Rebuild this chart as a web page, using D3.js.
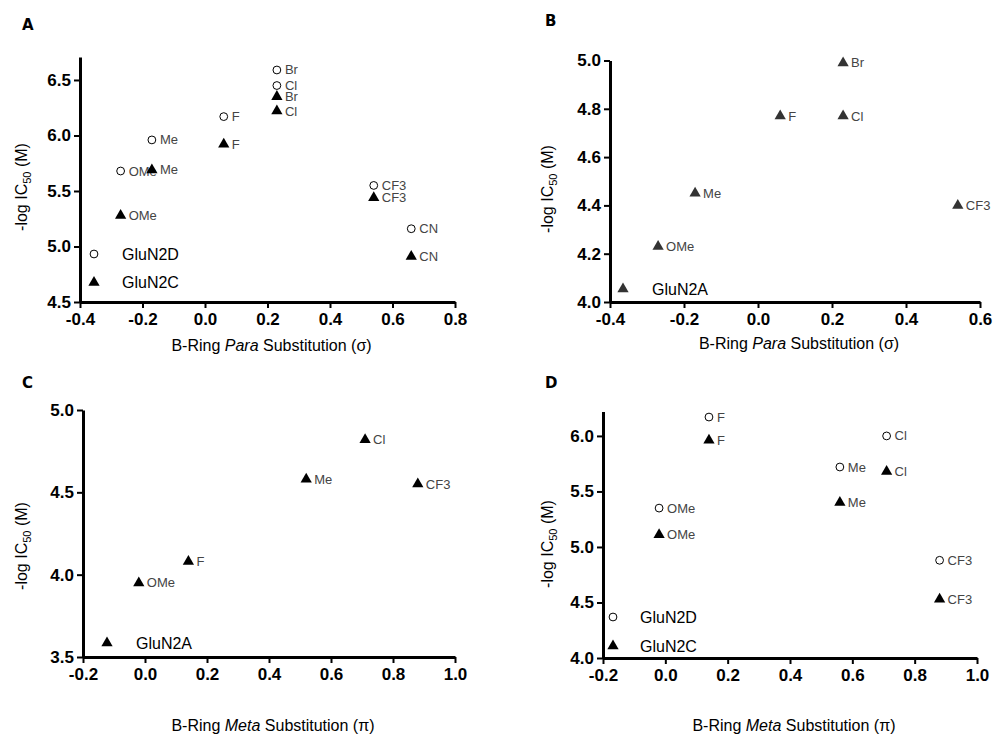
<!DOCTYPE html>
<html>
<head>
<meta charset="utf-8">
<script src="https://cdn.jsdelivr.net/npm/d3@7"></script>
<style>
  body { margin: 0; background: #fff; }
  svg { font-family: "Liberation Sans", Arial, sans-serif; }
  .domain { stroke: #000; stroke-width: 3px; }
  .tick line { stroke: #000; stroke-width: 2px; }
  .tick text { font-size: 17px; font-weight: bold; fill: #000; font-family: "Liberation Sans", Arial, sans-serif; }
</style>
</head>
<body>
<svg id="chart" width="993" height="736"></svg>
<script>
// Para substitution (sigma) — GluN2D / GluN2C
const paraSubs = ['OMe', 'Me', 'F', 'Cl', 'Br', 'CF3', 'CN']
const paraSigma = [-0.27, -0.17, 0.06, 0.23, 0.23, 0.54, 0.66]
const paraN2D = [5.68, 5.96, 6.17, 6.45, 6.59, 5.55, 5.16]
const paraN2C = [5.28, 5.69, 5.92, 6.22, 6.35, 5.44, 4.91]

// Para substitution — GluN2A
const paraSubsA = ['OMe', 'Me', 'F', 'Cl', 'Br', 'CF3']
const paraSigmaA = [-0.27, -0.17, 0.06, 0.23, 0.23, 0.54]
const paraN2A = [4.23, 4.45, 4.77, 4.77, 4.99, 4.40]

// Meta substitution (pi) — GluN2A
const metaSubsA = ['OMe', 'F', 'Me', 'Cl', 'CF3']
const metaPiA = [-0.02, 0.14, 0.52, 0.71, 0.88]
const metaN2A = [3.95, 4.08, 4.58, 4.82, 4.55]

// Meta substitution — GluN2D / GluN2C
const metaSubs = ['OMe', 'F', 'Me', 'Cl', 'CF3']
const metaPi = [-0.02, 0.14, 0.56, 0.71, 0.88]
const metaN2D = [5.35, 6.17, 5.72, 6.00, 4.88]
const metaN2C = [5.11, 5.96, 5.40, 5.68, 4.53]

const ticksParaA = [-0.4, -0.2, 0.0, 0.2, 0.4, 0.6, 0.8]
const ticksParaB = [-0.4, -0.2, 0.0, 0.2, 0.4, 0.6]
const ticksMeta = [-0.2, 0.0, 0.2, 0.4, 0.6, 0.8, 1.0]

const svg = d3.select('#chart')

function zip (xs, ys, labels) {
  return xs.map((x, i) => ({ x: x, y: ys[i], label: labels[i] }))
}

function drawPanel (p) {
  const g = svg.append('g')
  const x = d3.scaleLinear().domain(p.xDomain).range([p.left, p.right])
  const y = d3.scaleLinear().domain(p.yDomain).range([p.bottom, p.top])
  const fmt = d => d3.format('.1f')(d).replace('−', '-')

  g.append('g')
    .attr('transform', `translate(0,${p.bottom})`)
    .call(d3.axisBottom(x).tickValues(p.xTicks).tickFormat(fmt)
      .tickSize(6).tickSizeOuter(0).tickPadding(5))
  g.append('g')
    .attr('transform', `translate(${p.left},0)`)
    .call(d3.axisLeft(y).tickValues(p.yTicks).tickFormat(fmt)
      .tickSize(6).tickSizeOuter(0).tickPadding(3))

  // panel letter
  g.append('text')
    .attr('x', p.letterX).attr('y', p.letterY)
    .style('font-family', '"DejaVu Sans", Arial, sans-serif')
    .style('font-weight', 900).style('font-size', '15px')
    .text(p.letter)

  // y title
  const yt = g.append('text')
    .attr('transform', `translate(${p.yTitleX},${p.yTitleY}) rotate(-90)`)
    .attr('text-anchor', 'middle')
    .style('font-size', '16px')
  yt.append('tspan').text('-log IC')
  yt.append('tspan').attr('dy', 4).style('font-size', '11px').text('50')
  yt.append('tspan').attr('dy', -4).text(' (M)')

  // x title
  const xt = g.append('text')
    .attr('x', (p.left + p.right) / 2 + 4).attr('y', p.xTitleY)
    .attr('text-anchor', 'middle')
    .style('font-size', '16px')
  xt.append('tspan').text('B-Ring ')
  xt.append('tspan').style('font-style', 'italic').text(p.xWord)
  xt.append('tspan').text(' Substitution (' + p.xSym + ')')

  const tri = d3.symbol().type(d3.symbolTriangle).size(55)

  p.series.forEach(s => {
    const pts = g.append('g')
    if (s.shape === 'circle') {
      pts.selectAll('circle')
        .data(s.data)
        .join('circle')
        .attr('cx', d => x(d.x)).attr('cy', d => y(d.y)).attr('r', 3.9)
        .attr('fill', 'none').attr('stroke', '#000').attr('stroke-width', 1)
    } else {
      pts.selectAll('path')
        .data(s.data)
        .join('path')
        .attr('d', tri)
        .attr('transform', d => `translate(${x(d.x)},${y(d.y)})`)
        .attr('fill', s.color)
    }
    pts.selectAll('text')
      .data(s.data)
      .join('text')
      .attr('x', d => x(d.x) + 8)
      .attr('y', d => y(d.y) + 4.5)
      .style('font-size', '13px')
      .style('fill', '#444')
      .text(d => d.label)

    // legend entry
    const lx = p.left + p.legendDX
    const ly = p.bottom - s.legendDY
    if (s.shape === 'circle') {
      g.append('circle').attr('cx', lx).attr('cy', ly).attr('r', 3.9)
        .attr('fill', 'none').attr('stroke', '#000').attr('stroke-width', 1)
    } else {
      g.append('path').attr('d', tri).attr('transform', `translate(${lx},${ly})`)
        .attr('fill', s.color)
    }
    g.append('text')
      .attr('x', p.left + p.legendTextDX).attr('y', ly + 5.5)
      .style('font-size', '16px')
      .text(s.name)
  })
}

drawPanel({
  letter: 'A', letterX: 22, letterY: 30,
  left: 80, right: 455, top: 57, bottom: 302,
  xDomain: [-0.4, 0.8], yDomain: [4.5, 6.707], xTicks: ticksParaA, yTicks: [4.5, 5.0, 5.5, 6.0, 6.5],
  xWord: 'Para', xSym: 'σ', xTitleY: 351, yTitleX: 27, yTitleY: 187,
  legendDX: 14, legendTextDX: 42,
  series: [
    { name: 'GluN2D', shape: 'circle', data: zip(paraSigma, paraN2D, paraSubs), legendDY: 48 },
    { name: 'GluN2C', shape: 'triangle', color: '#000', data: zip(paraSigma, paraN2C, paraSubs), legendDY: 19.5 }
  ]
})

drawPanel({
  letter: 'B', letterX: 545, letterY: 26,
  left: 610, right: 980, top: 60.5, bottom: 302,
  xDomain: [-0.4, 0.6], yDomain: [4.0, 5.0], xTicks: ticksParaB, yTicks: [4.0, 4.2, 4.4, 4.6, 4.8, 5.0],
  xWord: 'Para', xSym: 'σ', xTitleY: 349, yTitleX: 553, yTitleY: 189,
  legendDX: 13, legendTextDX: 42,
  series: [
    { name: 'GluN2A', shape: 'triangle', color: '#333', data: zip(paraSigmaA, paraN2A, paraSubsA), legendDY: 13 }
  ]
})

drawPanel({
  letter: 'C', letterX: 22, letterY: 388,
  left: 83, right: 455, top: 410, bottom: 657,
  xDomain: [-0.2, 1.0], yDomain: [3.5, 5.0], xTicks: ticksMeta, yTicks: [3.5, 4.0, 4.5, 5.0],
  xWord: 'Meta', xSym: 'π', xTitleY: 731, yTitleX: 27, yTitleY: 546,
  legendDX: 24, legendTextDX: 53,
  series: [
    { name: 'GluN2A', shape: 'triangle', color: '#000', data: zip(metaPiA, metaN2A, metaSubsA), legendDY: 14 }
  ]
})

drawPanel({
  letter: 'D', letterX: 545, letterY: 388,
  left: 603, right: 977, top: 411.5, bottom: 658,
  xDomain: [-0.2, 1.0], yDomain: [4.0, 6.22], xTicks: ticksMeta, yTicks: [4.0, 4.5, 5.0, 5.5, 6.0],
  xWord: 'Meta', xSym: 'π', xTitleY: 731, yTitleX: 553, yTitleY: 544,
  legendDX: 10, legendTextDX: 37,
  series: [
    { name: 'GluN2D', shape: 'circle', data: zip(metaPi, metaN2D, metaSubs), legendDY: 41 },
    { name: 'GluN2C', shape: 'triangle', color: '#000', data: zip(metaPi, metaN2C, metaSubs), legendDY: 12 }
  ]
})
</script>
</body>
</html>
